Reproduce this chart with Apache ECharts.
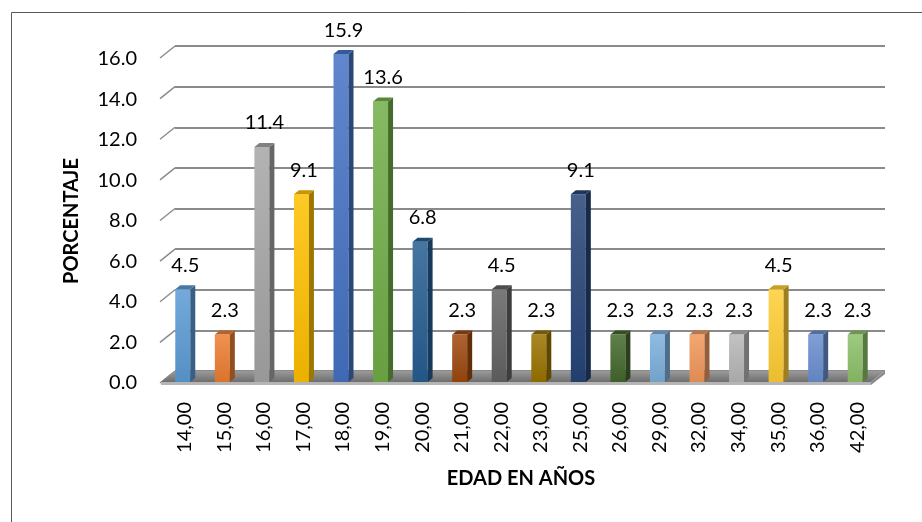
<!DOCTYPE html>
<html>
<head>
<meta charset="utf-8">
<script src="https://cdn.jsdelivr.net/npm/echarts@6/dist/echarts.min.js"></script>
<style>
html,body{margin:0;padding:0;background:#fff;}
#chart{width:922px;height:522px;}
</style>
</head>
<body>
<div id="chart"></div>
<script>
const categories = ['14,00','15,00','16,00','17,00','18,00','19,00','20,00','21,00','22,00','23,00','25,00','26,00','29,00','32,00','34,00','35,00','36,00','42,00'];
const values = [4.5, 2.3, 11.4, 9.1, 15.9, 13.6, 6.8, 2.3, 4.5, 2.3, 9.1, 2.3, 2.3, 2.3, 2.3, 4.5, 2.3, 2.3];
const barColors = ['#5B9BD5','#ED7D31','#A5A5A5','#FFC000','#4472C4','#70AD47','#255E91','#9E480E','#636363','#997300','#264478','#43682B','#7CAFDD','#F1975A','#B7B7B7','#FFCD33','#698ED0','#8CC168'];
const yTicks = [0, 2, 4, 6, 8, 10, 12, 14, 16];
const yTitle = 'PORCENTAJE';
const xTitle = 'EDAD EN AÑOS';

const FONT = 'Lato, "Open Sans", sans-serif';

function shade(hex, f) {
  const n = parseInt(hex.slice(1), 16);
  let r = (n >> 16) & 255, g = (n >> 8) & 255, b = n & 255;
  if (f < 0) { r = r * (1 + f); g = g * (1 + f); b = b * (1 + f); }
  else { r = r + (255 - r) * f; g = g + (255 - g) * f; b = b + (255 - b) * f; }
  return 'rgb(' + Math.round(r) + ',' + Math.round(g) + ',' + Math.round(b) + ')';
}

const DX = 5, DY = 4, BW = 15;

const chart = echarts.init(document.getElementById('chart'), null, {renderer: 'canvas'});
chart.setOption({
  animation: false,
  backgroundColor: '#ffffff',
  graphic: [{
    type: 'rect', left: 9, top: 10, shape: {width: 1000, height: 600},
    style: {fill: 'none', stroke: '#5a5a5a', lineWidth: 1}, z: -10
  }],
  grid: [
    {left: 165, right: 45, top: 52, bottom: 140},
    {left: 175, right: 37, top: 46, bottom: 151},
    {left: 165, right: 45, top: 59, bottom: 139}
  ],
  xAxis: [
    {type: 'category', gridIndex: 0, data: categories,
     axisLine: {show: false}, axisTick: {show: false},
     axisLabel: {rotate: 90, margin: 20, fontSize: 20, fontFamily: FONT, color: '#000'},
     name: xTitle, nameLocation: 'middle', nameGap: 87,
     nameTextStyle: {fontSize: 20, fontWeight: 'bold', fontFamily: FONT, color: '#000'}},
    {type: 'category', gridIndex: 1, data: categories, show: false},
    {type: 'category', gridIndex: 2, data: categories, show: false}
  ],
  yAxis: [
    {type: 'value', gridIndex: 0, min: 0, max: 16, interval: 2, show: false},
    {type: 'value', gridIndex: 1, min: 0, max: 16, interval: 2,
     axisLine: {show: false}, axisTick: {show: false}, axisLabel: {show: false},
     splitLine: {show: true, lineStyle: {color: '#8a8a8a', width: 2}}},
    {type: 'value', gridIndex: 2, min: 0, max: 16, interval: 2,
     axisLine: {show: false}, axisTick: {show: false}, splitLine: {show: false},
     axisLabel: {formatter: v => v.toFixed(1), margin: 28, fontSize: 20, fontFamily: FONT, color: '#000'},
     name: yTitle, nameLocation: 'middle', nameGap: 83,
     nameTextStyle: {fontSize: 20, fontWeight: 'bold', fontFamily: FONT, color: '#000'}}
  ],
  series: [
    {
      type: 'custom', xAxisIndex: 1, yAxisIndex: 1, z: 1,
      data: yTicks.map(v => [0, v]),
      renderItem: function (params, api) {
        const cs = params.coordSys;
        const y = api.coord([0, api.value(1)])[1];
        return {type: 'line', shape: {x1: cs.x, y1: y, x2: cs.x - 15, y2: y + 12},
          style: {stroke: '#8a8a8a', lineWidth: 1.5}};
      }
    },
    {
      type: 'custom', xAxisIndex: 1, yAxisIndex: 1, z: 2,
      data: [[0, 0]],
      renderItem: function (params, api) {
        const cs = params.coordSys;
        const y = api.coord([0, 0])[1];
        const x0 = cs.x, x1 = cs.x + cs.width;
        return {type: 'group', children: [
          {type: 'polygon', shape: {points: [[x0, y], [x1, y], [x1 - 14, y + 11], [x0 - 14, y + 11]]},
            style: {fill: new echarts.graphic.LinearGradient(0, 0, 0, 1, [{offset: 0, color: '#9a9a9a'}, {offset: 1, color: '#6e6e6e'}])}},
          {type: 'polygon', shape: {points: [[x0 - 14, y + 11], [x1 - 14, y + 11], [x1 - 14, y + 14], [x0 - 14, y + 14]]},
            style: {fill: '#b5b5b5'}},
          {type: 'polygon', shape: {points: [[x1, y], [x1 - 14, y + 11], [x1 - 14, y + 14], [x1, y + 3]]},
            style: {fill: '#8a8a8a'}}
        ]};
      }
    },
    {
      type: 'custom', xAxisIndex: 0, yAxisIndex: 0, z: 3,
      data: values.map((v, i) => [i, v]),
      renderItem: function (params, api) {
        const i = api.value(0), v = api.value(1);
        const top = api.coord([i, v]);
        const base = api.coord([i, 0]);
        const col = barColors[i];
        const xl = top[0] - BW / 2 - 2, xr = xl + BW;
        const yt = top[1], yb = base[1];
        return {type: 'group', children: [
          {type: 'rect', shape: {x: xl, y: yt, width: BW, height: yb - yt},
            style: {fill: new echarts.graphic.LinearGradient(0, 0, 0, 1, [{offset: 0, color: shade(col, 0.15)}, {offset: 1, color: shade(col, -0.08)}])}},
          {type: 'polygon', shape: {points: [[xr, yt], [xr + DX, yt - DY], [xr + DX, yb - DY], [xr, yb]]},
            style: {fill: shade(col, -0.38)}},
          {type: 'polygon', shape: {points: [[xl, yt], [xl + DX, yt - DY], [xr + DX, yt - DY], [xr, yt]]},
            style: {fill: shade(col, -0.22)}},
          {type: 'text', style: {text: v.toFixed(1), x: xl + (BW + DX) / 2, y: yt - 14,
            align: 'center', verticalAlign: 'bottom', font: '20px ' + FONT, fill: '#000'}}
        ]};
      }
    }
  ]
});
</script>
</body>
</html>
